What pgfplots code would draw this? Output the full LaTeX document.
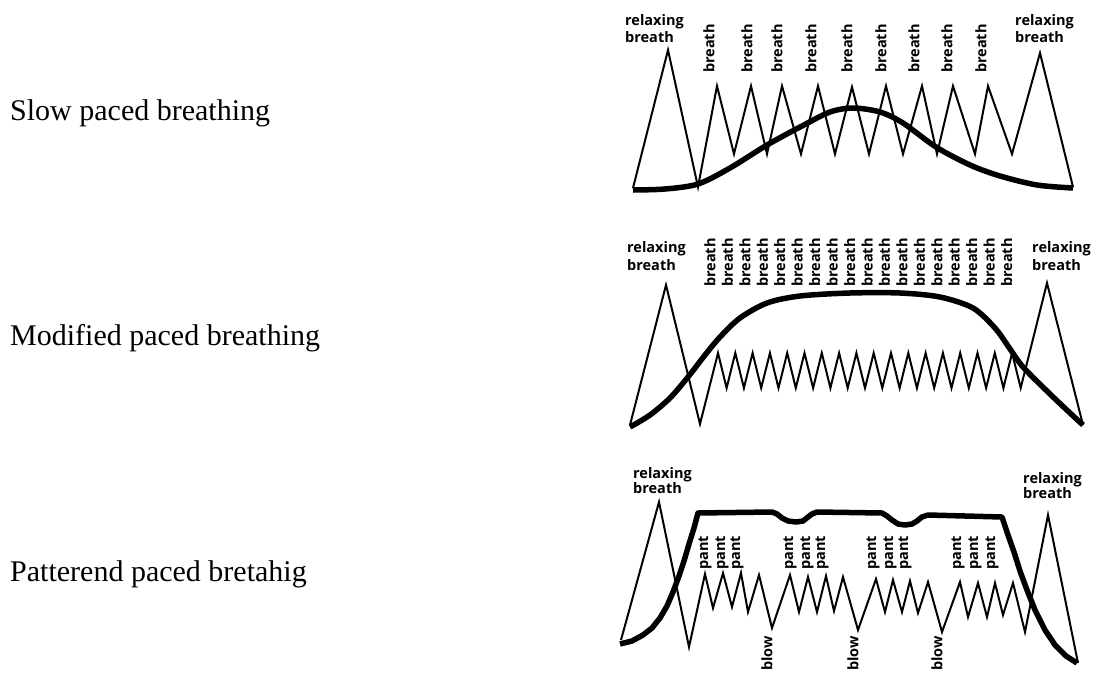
\documentclass[border=0pt]{standalone}
\usepackage{fontspec}
\setmainfont{Liberation Serif}
\setsansfont{Open Sans}
\usepackage{pgfplots}
\pgfplotsset{compat=1.18}

\newcommand{\lbl}{\sffamily\bfseries\fontsize{14.5}{17}\selectfont}

\begin{document}
\begin{tikzpicture}
\begin{axis}[
    scale only axis,
    width=1093pt, height=675pt,
    xmin=0, xmax=1093, ymin=0, ymax=675,
    y dir=reverse,
    hide axis,
    clip=false,
]
% keep the whole page
\addplot[draw=none, forget plot] coordinates {(0,0) (1093,675)};

% ---------- slow paced breathing ----------
\addplot[black, line width=2pt] coordinates {
(633,188) (668,50) (698,187)
(717,86) (734,154) (751,86) (767,154) (782,86) (801,154) (818,86) (835,154)
(852,87) (869,154) (886,86) (903,154) (922,86) (937,154) (953,86) (975,154)
(988,86) (1012,154)
(1040,53) (1073,187)
};
\addplot[black, line width=5.5pt, smooth, tension=0.5] coordinates {
(633,190) (665,189) (698,184) (730,168) (767,145) (802,126) (830,112)
(853,108) (880,112) (903,123) (936,147) (970,165) (1000,176) (1037,185) (1073,188)
};

% ---------- modified paced breathing ----------
\addplot[black, line width=2pt] coordinates {
(630,425) (666,285) (700,424)
(718.0,353) (726.6,388) (735.3,353) (743.9,388) (752.6,353) (761.2,388)
(769.9,353) (778.5,388) (787.2,353) (795.8,388) (804.5,353) (813.1,388)
(821.8,353) (830.4,388) (839.1,353) (847.7,388) (856.4,353) (865.0,388)
(873.7,353) (882.3,388) (891.0,353) (899.6,388) (908.3,353) (916.9,388)
(925.6,353) (934.2,388) (942.9,353) (951.5,388) (960.2,353) (968.8,388)
(977.5,353) (986.1,388) (994.8,353) (1003.4,388) (1012.1,353) (1020.7,388)
(1047,283) (1083,425)
};
\addplot[black, line width=5.5pt, smooth, tension=0.5] coordinates {
(630,427) (650,415) (670,398) (688,377) (705,355) (720,337) (740,318)
(767,303) (800,296) (850,293) (900,293) (940,297) (973,308) (995,328)
(1008,346) (1023,367) (1050,394) (1070,413) (1083,425)
};

% ---------- patterned paced breathing ----------
\addplot[black, line width=2pt] coordinates {
(621,640) (659,502) (689,647)
(705,574) (713,608) (723,573) (732,607) (741,573) (748,612) (759,575) (772,628)
(790,575) (799,612) (808,577) (817,612) (826,576) (834,611) (843,577) (858,630)
(876,579) (885,612) (893,580) (902,612) (910,581) (918,613) (928,582) (942,632)
(960,582) (968,617) (978,583) (987,617) (995,583) (1003,615) (1013,583) (1025,632)
(1048,515) (1078,663)
};
\addplot[black, line width=5.5pt, line join=round] coordinates {
(620,644) (632,641) (643,635) (652,628) (660,618) (667,606) (673,592)
(679,576) (684,561) (689,544) (694,528) (698,513)
(772,512) (777,514) (782,518) (788,521) (796,522) (803,521) (808,517) (812,514) (817,512)
(882,513) (887,516) (892,520) (898,524) (905,525) (912,524) (917,521) (922,517) (928,515)
(1002,517)
(1008,535) (1014,552) (1020,571) (1027,590) (1035,610) (1045,630)
(1055,645) (1066,656) (1077,663)
};

% ---------- texts ----------
\node[anchor=base west, inner sep=0, font=\fontsize{30}{36}\selectfont] at (axis cs:10,120) {Slow paced breathing};
\node[anchor=base west, inner sep=0, font=\fontsize{30}{36}\selectfont] at (axis cs:10,345) {Modified paced breathing};
\node[anchor=base west, inner sep=0, font=\fontsize{30}{36}\selectfont] at (axis cs:10,581) {Patterend paced bretahig};

\node[anchor=base west, inner sep=0, font=\lbl] at (axis cs:625,25) {relaxing};
\node[anchor=base west, inner sep=0, font=\lbl] at (axis cs:625,42) {breath};
\node[anchor=base west, inner sep=0, font=\lbl] at (axis cs:1015,25) {relaxing};
\node[anchor=base west, inner sep=0, font=\lbl] at (axis cs:1015,42) {breath};

\node[anchor=base west, inner sep=0, font=\lbl] at (axis cs:627,252) {relaxing};
\node[anchor=base west, inner sep=0, font=\lbl] at (axis cs:627,270) {breath};
\node[anchor=base west, inner sep=0, font=\lbl] at (axis cs:1032,252) {relaxing};
\node[anchor=base west, inner sep=0, font=\lbl] at (axis cs:1032,270) {breath};

\node[anchor=base west, inner sep=0, font=\lbl] at (axis cs:633,478) {relaxing};
\node[anchor=base west, inner sep=0, font=\lbl] at (axis cs:633,493) {breath};
\node[anchor=base west, inner sep=0, font=\lbl] at (axis cs:1023,483) {relaxing};
\node[anchor=base west, inner sep=0, font=\lbl] at (axis cs:1023,498) {breath};

\pgfplotsinvokeforeach{709,747,777,811,847,881,914,947,981}{
  \node[rotate=90, anchor=west, inner sep=0, font=\lbl] at (axis cs:#1,73) {breath};
}
\pgfplotsinvokeforeach{710.0,727.5,744.9,762.4,779.8,797.3,814.7,832.2,849.6,867.1,884.5,902.0,919.4,936.9,954.3,971.8,989.2,1006.7}{
  \node[rotate=90, anchor=west, inner sep=0, font=\lbl] at (axis cs:#1,287) {breath};
}
\pgfplotsinvokeforeach{705,722,737,790,807,822,873,890,905,958,975,992}{
  \node[rotate=90, anchor=west, inner sep=0, font=\lbl] at (axis cs:#1,570) {pant};
}
\pgfplotsinvokeforeach{767,853,937}{
  \node[rotate=90, anchor=west, inner sep=0, font=\lbl] at (axis cs:#1,671) {blow};
}
\end{axis}
\end{tikzpicture}
\end{document}
